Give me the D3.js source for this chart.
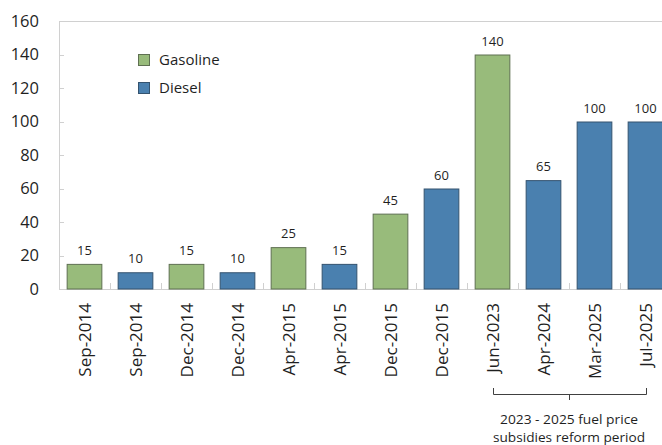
<!DOCTYPE html>
<html><head><meta charset="utf-8">
<script src="https://cdn.jsdelivr.net/npm/d3@7"></script>
<style>
html,body{margin:0;padding:0;background:#fff;}
svg{display:block;font-family:"Open Sans",sans-serif;}
</style></head>
<body>
<script>
const categories = ["Sep-2014","Sep-2014","Dec-2014","Dec-2014","Apr-2015","Apr-2015","Dec-2015","Dec-2015","Jun-2023","Apr-2024","Mar-2025","Jul-2025"];
const fuelTypes = ["Gasoline","Diesel","Gasoline","Diesel","Gasoline","Diesel","Gasoline","Diesel","Gasoline","Diesel","Diesel","Diesel"];
const values = [15,10,15,10,25,15,45,60,140,65,100,100];
const yTicks = [0,20,40,60,80,100,120,140,160];
const legendLabels = ["Gasoline","Diesel"];
const bracketLabel = ["2023 - 2025 fuel price","subsidies reform period"];
const bracketFrom = 8, bracketTo = 11;

(function(){
const W = 662, H = 445;
const colors = {Gasoline:"#98bb7b", Diesel:"#4a80af"};
const strokes = {Gasoline:"#5f7052", Diesel:"#34536f"};
const mLeft = 59, mTop = 21, mBottom = 289, mRight = 671;

const svg = d3.select("body").append("svg").attr("width",W).attr("height",H);

const idx = categories.map((d,i)=>i);
const x = d3.scaleBand().domain(idx).range([mLeft,mRight]).paddingInner(0.3).paddingOuter(0.15);
const step = x.step();
const y = d3.scaleLinear().domain([0,160]).range([mBottom,mTop]);

const axisColor = "#d0d0d0";
const textColor = "#1f1f1f";
// frame
svg.append("line").attr("x1",mLeft).attr("x2",W).attr("y1",mTop+0.5).attr("y2",mTop+0.5).attr("stroke",axisColor);
svg.append("line").attr("x1",mLeft+0.5).attr("x2",mLeft+0.5).attr("y1",mTop).attr("y2",mBottom).attr("stroke",axisColor);

// y axis labels and inside ticks
const yAxis = d3.axisLeft(y).tickValues(yTicks).tickSize(0).tickPadding(20);
const gy = svg.append("g").attr("transform",`translate(${mLeft},0)`).call(yAxis);
gy.select(".domain").remove();
gy.selectAll("text").attr("font-size","16.5px").attr("fill",textColor).attr("font-family","Open Sans");
svg.append("g").selectAll("line").data(yTicks.slice(1,-1)).join("line")
  .attr("x1",mLeft).attr("x2",mLeft+5).attr("y1",d=>Math.round(y(d))+0.5).attr("y2",d=>Math.round(y(d))+0.5)
  .attr("stroke",axisColor);

// x axis
const gx = svg.append("g").attr("transform",`translate(0,${mBottom})`)
  .call(d3.axisBottom(x).tickFormat(i=>categories[i]).tickSize(0).tickPadding(0));
gx.select(".domain").attr("stroke",axisColor).attr("d",`M${mLeft},0.5H${W}`);
gx.selectAll("text")
  .attr("font-size","17px").attr("fill",textColor).attr("font-family","Open Sans")
  .attr("transform","rotate(-90)").attr("text-anchor","end")
  .attr("x",-14).attr("y",0).attr("dy","0.36em");
// category boundary ticks (inside)
svg.append("g").selectAll("line").data(idx.slice(1)).join("line")
  .attr("x1",i=>Math.round(x(i)-step*0.15)+0.5).attr("x2",i=>Math.round(x(i)-step*0.15)+0.5)
  .attr("y1",mBottom-6).attr("y2",mBottom).attr("stroke",axisColor);

// bars
svg.append("g").selectAll("rect").data(idx).join("rect")
  .attr("x",i=>x(i)+0.5).attr("width",x.bandwidth()-1)
  .attr("y",i=>y(values[i])+0.5).attr("height",i=>y(0)-y(values[i])-0.5)
  .attr("fill",i=>colors[fuelTypes[i]]).attr("stroke",i=>strokes[fuelTypes[i]]).attr("stroke-width",1);

// data labels
svg.append("g").selectAll("text").data(idx).join("text")
  .attr("x",i=>x(i)+x.bandwidth()/2).attr("y",i=>y(values[i])-9)
  .attr("text-anchor","middle").attr("font-size","13px").attr("fill",textColor)
  .text(i=>values[i]);

// legend
const lg = svg.append("g");
legendLabels.forEach((l,k)=>{
  const cy = 60 + k*28;
  lg.append("rect").attr("x",138.5).attr("y",cy-5.5).attr("width",11).attr("height",11)
    .attr("fill",colors[l]).attr("stroke",strokes[l]);
  lg.append("text").attr("x",159).attr("y",cy).attr("dy","0.35em")
    .attr("font-size","15px").attr("fill",textColor).text(l);
});

// bracket
const bx1 = x(bracketFrom)+x.bandwidth()/2, bx2 = x(bracketTo)+x.bandwidth()/2, bm = (bx1+bx2)/2;
svg.append("path")
  .attr("d",`M${Math.round(bx1)+0.5},388V394.5H${Math.round(bx2)+0.5}V388M${Math.round(bm)+0.5},394.5V400`)
  .attr("fill","none").attr("stroke","#404040").attr("stroke-width",1);
const bracketWidths = [138,152];
svg.append("g").selectAll("text").data(bracketLabel).join("text")
  .attr("x",bm).attr("y",(d,k)=>424+k*18).attr("text-anchor","middle")
  .attr("textLength",(d,k)=>bracketWidths[k]).attr("lengthAdjust","spacingAndGlyphs")
  .attr("font-size","13px").attr("fill",textColor).text(d=>d);
})();
</script>
</body></html>
